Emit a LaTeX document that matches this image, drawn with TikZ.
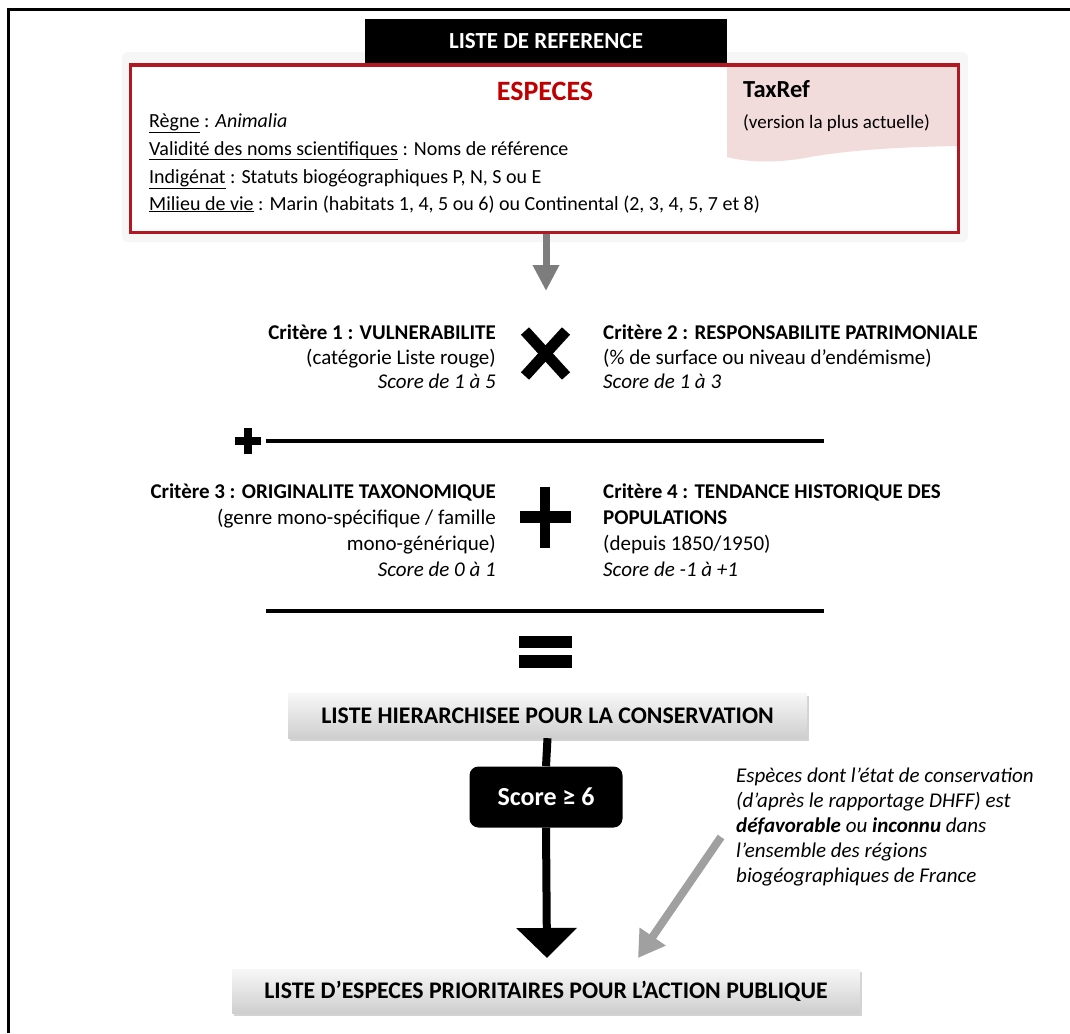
\documentclass[tikz,border=0pt]{standalone}
\usepackage{fontspec}
\setmainfont{Carlito}
\usetikzlibrary{arrows.meta,shadows}
\definecolor{dred}{RGB}{178,24,34}
\definecolor{ered}{RGB}{192,0,0}
\definecolor{pinkbg}{RGB}{242,220,219}
\definecolor{agray}{RGB}{125,125,125}
\definecolor{lgray}{RGB}{160,160,160}
\definecolor{halo}{RGB}{246,246,246}
\tikzset{
  body/.style={inner sep=0pt, font=\fontsize{20}{24}\selectfont},
  crit/.style={inner sep=0pt, font=\fontsize{21}{24}\selectfont},
  note/.style={inner sep=0pt, font=\fontsize{21}{24}\selectfont\itshape},
  graybox/.style={inner sep=0pt, top color=gray!6, bottom color=gray!38,
    drop shadow={opacity=0.35, shadow xshift=1.5pt, shadow yshift=-3pt},
    font=\fontsize{23.8}{26}\selectfont\bfseries},
  bar/.style={fill=black}
}
\begin{document}
\begin{tikzpicture}[x=1pt,y=-1pt]
\useasboundingbox (0,0) rectangle (1070,1033);
% outer frame
\draw[line width=3] (8,1033) -- (8,10) -- (1070,10);
% faint halo round the species box
\fill[halo, rounded corners=6pt] (122,52) rectangle (968,242);
% header
\node[fill=black, minimum width=362pt, minimum height=44pt, inner sep=0pt,
  text=white, font=\fontsize{23}{26}\selectfont\bfseries] (hdr) at (546,41) {LISTE DE REFERENCE};
% pink TaxRef area
\fill[white] (130,65) rectangle (958,232);
\fill[pinkbg] (727,66) -- (957,66) -- (957,146)
  .. controls (900,147) and (850,150) .. (810,157)
  .. controls (780,163) and (750,163) .. (727,157) -- cycle;
% red box
\node[draw=dred, line width=3pt, minimum width=828pt, minimum height=167pt, inner sep=0pt] (sp) at (544,148.5) {};
\node[anchor=base, inner sep=0pt, text=ered, font=\fontsize{28}{30}\selectfont\bfseries] (esp) at (545,100) {ESPECES};
\node[anchor=base west, inner sep=0pt, font=\fontsize{24.5}{27}\selectfont\bfseries] (tax) at (743,97) {TaxRef};
\node[anchor=base west, inner sep=0pt, font=\fontsize{19}{22}\selectfont] (ver) at (743,128) {(version la plus actuelle)};
\node[body, anchor=base west] (l1) at (149,127) {\underline{Règne} : \textit{Animalia}};
\node[body, anchor=base west] (l2) at (149,155) {\underline{Validité des noms scientifiques} : Noms de référence};
\node[body, anchor=base west] (l3) at (149,183) {\underline{Indigénat} : Statuts biogéographiques P, N, S ou E};
\node[body, anchor=base west] (l4) at (149,210) {\underline{Milieu de vie} : Marin (habitats 1, 4, 5 ou 6) ou Continental (2, 3, 4, 5, 7 et 8)};
% gray arrow
\coordinate (a1) at (546,291);
\draw[agray, line width=7pt, -{Triangle[length=26pt,width=25pt]}] (sp.south -| a1) -- (a1);
% criteria 1 & 2
\node[crit, anchor=base east] (c1a) at (496,339) {\textbf{Critère 1 : VULNERABILITE}};
\node[crit, anchor=base east] (c1b) at (496,364) {(catégorie Liste rouge)};
\node[crit, anchor=base east] (c1c) at (496,388) {\textit{Score de 1 à 5}};
\draw[line width=11pt] (525,331) -- (566,376) (566,331) -- (525,376);
\node[crit, anchor=base west] (c2a) at (603,339) {\textbf{Critère 2 : RESPONSABILITE PATRIMONIALE}};
\node[crit, anchor=base west] (c2b) at (603,364) {(\% de surface ou niveau d’endémisme)};
\node[crit, anchor=base west] (c2c) at (603,388) {\textit{Score de 1 à 3}};
% small plus and line 1
\fill[bar] (235,437) rectangle (261,445);
\fill[bar] (244,428) rectangle (252,454);
\draw[line width=4pt] (266,441) -- (824,441);
% criteria 3 & 4
\node[crit, anchor=base east] (c3a) at (496,498) {\textbf{Critère 3 : ORIGINALITE TAXONOMIQUE}};
\node[crit, anchor=base east] (c3b) at (496,524) {(genre mono-spécifique / famille};
\node[crit, anchor=base east] (c3c) at (496,550) {mono-générique)};
\node[crit, anchor=base east] (c3d) at (496,576) {\textit{Score de 0 à 1}};
\fill[bar] (520,511) rectangle (571,523);
\fill[bar] (540,487) rectangle (550,548);
\node[crit, anchor=base west] (c4a) at (603,498) {\textbf{Critère 4 : TENDANCE HISTORIQUE DES}};
\node[crit, anchor=base west] (c4b) at (603,524) {\textbf{POPULATIONS}};
\node[crit, anchor=base west] (c4c) at (603,550) {(depuis 1850/1950)};
\node[crit, anchor=base west] (c4d) at (603,576) {\textit{Score de -1 à +1}};
% line 2 and equals
\draw[line width=4pt] (266,611) -- (824,611);
\fill[bar] (519,636) rectangle (572,648);
\fill[bar] (519,655) rectangle (572,668);
% hierarchical list
\node[graybox, minimum width=519pt, minimum height=45pt] (hier) at (547.5,715.5) {LISTE HIERARCHISEE POUR LA CONSERVATION};
% score box
\node[fill=black, rounded corners=9pt, minimum width=153pt, minimum height=61pt, inner sep=0pt,
  text=white, font=\fontsize{26}{28}\selectfont\bfseries] (score) at (546,797) {Score ≥ 6};
\draw[line width=8pt] (hier.south) -- (score.north);
% bottom box
\node[graybox, minimum width=628pt, minimum height=44pt] (prio) at (546,991) {LISTE D’ESPECES PRIORITAIRES POUR L’ACTION PUBLIQUE};
\coordinate (tip1) at (547,958);
\draw[line width=8pt, -{Triangle[length=30pt,width=59pt]}] (score.south) -- (tip1);
% note
\node[note, anchor=base west] (n1) at (736,782) {Espèces dont l’état de conservation};
\node[note, anchor=base west] (n2) at (736,807) {(d’après le rapportage DHFF) est};
\node[note, anchor=base west] (n3) at (736,832) {\textbf{défavorable} ou \textbf{inconnu} dans};
\node[note, anchor=base west] (n4) at (736,857) {l’ensemble des régions};
\node[note, anchor=base west] (n5) at (736,882) {biogéographiques de France};
\coordinate (g0) at (721,837);
\coordinate (g1) at (638,958);
\draw[lgray, line width=8pt, -{Triangle[length=26pt,width=30pt]}] (g0) -- (g1);
\end{tikzpicture}
\end{document}
